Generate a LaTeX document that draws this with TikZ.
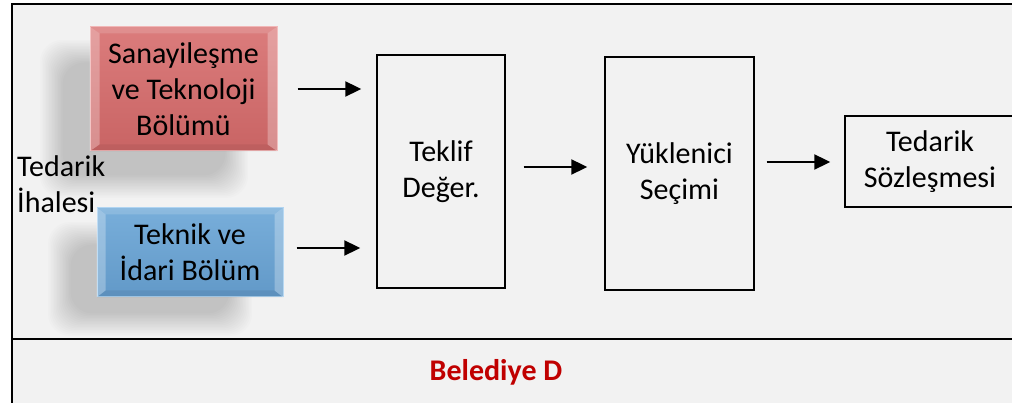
\documentclass[tikz,border=0pt]{standalone}
\usepackage{fontspec}
\setmainfont{Carlito}
\usetikzlibrary{arrows.meta,calc}
\definecolor{bg}{HTML}{F2F2F2}
\definecolor{redtop}{HTML}{DB7C7C}
\definecolor{redbot}{HTML}{C96464}
\definecolor{redline}{HTML}{F0B0B0}
\definecolor{bluetop}{HTML}{78AEDA}
\definecolor{bluebot}{HTML}{6299C8}
\definecolor{blueline}{HTML}{A8D0F0}
\definecolor{belred}{HTML}{C00000}
\tikzset{
  txt/.style={font=\fontsize{30}{36}\selectfont, align=center, inner sep=0pt},
  plain/.style={draw=black, line width=1.4pt, fill=bg, txt},
  dept/.style={txt, inner sep=0pt, line width=1pt},
  arr/.style={line width=2pt, -{Triangle[length=16pt,width=15pt]}},
  frame/.style={line width=1.6pt, draw=black},
  softshade/.style={fill=black, opacity=0.011}
}
\begin{document}
\begin{tikzpicture}[x=1pt,y=-1pt]
\useasboundingbox (0,0) rectangle (1012,403);
\fill[white] (0,0) rectangle (1012,403);
\fill[bg] (12,4) rectangle (1016,407);
\draw[frame] (12,407) -- (12,4) -- (1016,4);
\draw[frame] (12,339) -- (1016,339);

% soft shadows
\foreach \i in {0,...,15}{
  \fill[softshade, rounded corners=22pt] (40+1.5*\i,40+1.5*\i) rectangle (248-1.5*\i,198-1.5*\i);
  \fill[softshade, rounded corners=22pt] (48+1.5*\i,222+1.5*\i) rectangle (252-1.5*\i,336-1.5*\i);
}

% department boxes
\node[dept, top color=redtop, bottom color=redbot, draw=redline, minimum width=187pt, minimum height=124pt] (red) at (183.5,89) {};
\node[dept, top color=bluetop, bottom color=bluebot, draw=blueline, minimum width=186pt, minimum height=89pt] (blue) at (190,252.5) {};
% bevels
\foreach \b/\w in {red/10, blue/9}{
  \fill[white, opacity=0.28] (\b.north west) -- (\b.south west) -- ([xshift=\w pt, yshift=7pt]\b.south west) -- ([xshift=\w pt, yshift=-7pt]\b.north west) -- cycle;
  \fill[white, opacity=0.28] (\b.north east) -- (\b.south east) -- ([xshift=-\w pt, yshift=7pt]\b.south east) -- ([xshift=-\w pt, yshift=-7pt]\b.north east) -- cycle;
  \fill[white, opacity=0.15] (\b.north west) -- (\b.north east) -- ([xshift=-\w pt, yshift=-7pt]\b.north east) -- ([xshift=\w pt, yshift=-7pt]\b.north west) -- cycle;
  \fill[black, opacity=0.06] (\b.south west) -- (\b.south east) -- ([xshift=-\w pt, yshift=7pt]\b.south east) -- ([xshift=\w pt, yshift=7pt]\b.south west) -- cycle;
}
\node[txt] (redtxt) at (red.center) {Sanayileşme\\ve Teknoloji\\Bölümü};
\node[txt] (bluetxt) at (blue.center) {Teknik ve\\İdari Bölüm};

\node[txt, align=left, anchor=west] (ihale) at (17,184) {Tedarik\\İhalesi};

% process boxes
\node[plain, minimum width=128pt, minimum height=233pt] (teklif) at (441,171.5) {Teklif\\Değer.};
\node[plain, minimum width=149pt, minimum height=233pt] (yuk) at (679.5,173.5) {Yüklenici\\Seçimi};
\node[plain, minimum width=170pt, minimum height=91pt] (ted) at (930,161.5) {Tedarik\\Sözleşmesi};

% arrows
\draw[arr, shorten <=20pt, shorten >=15pt] (red.east) -- (red.east -| teklif.west);
\draw[arr, shorten <=13pt, shorten >=16pt] ([yshift=4.5pt]blue.east) -- ([yshift=4.5pt]blue.east -| teklif.west);
\draw[arr, shorten <=18pt, shorten >=17pt] ([yshift=4.5pt]teklif.east) -- ([yshift=4.5pt]teklif.east -| yuk.west);
\draw[arr, shorten <=12pt, shorten >=14pt] ([yshift=-0.5pt]ted.west -| yuk.east) -- ([yshift=-0.5pt]ted.west);

\node[font=\fontsize{30}{36}\selectfont\bfseries, text=belred, inner sep=0pt] (bel) at (496,372) {Belediye D};
\end{tikzpicture}
\end{document}
